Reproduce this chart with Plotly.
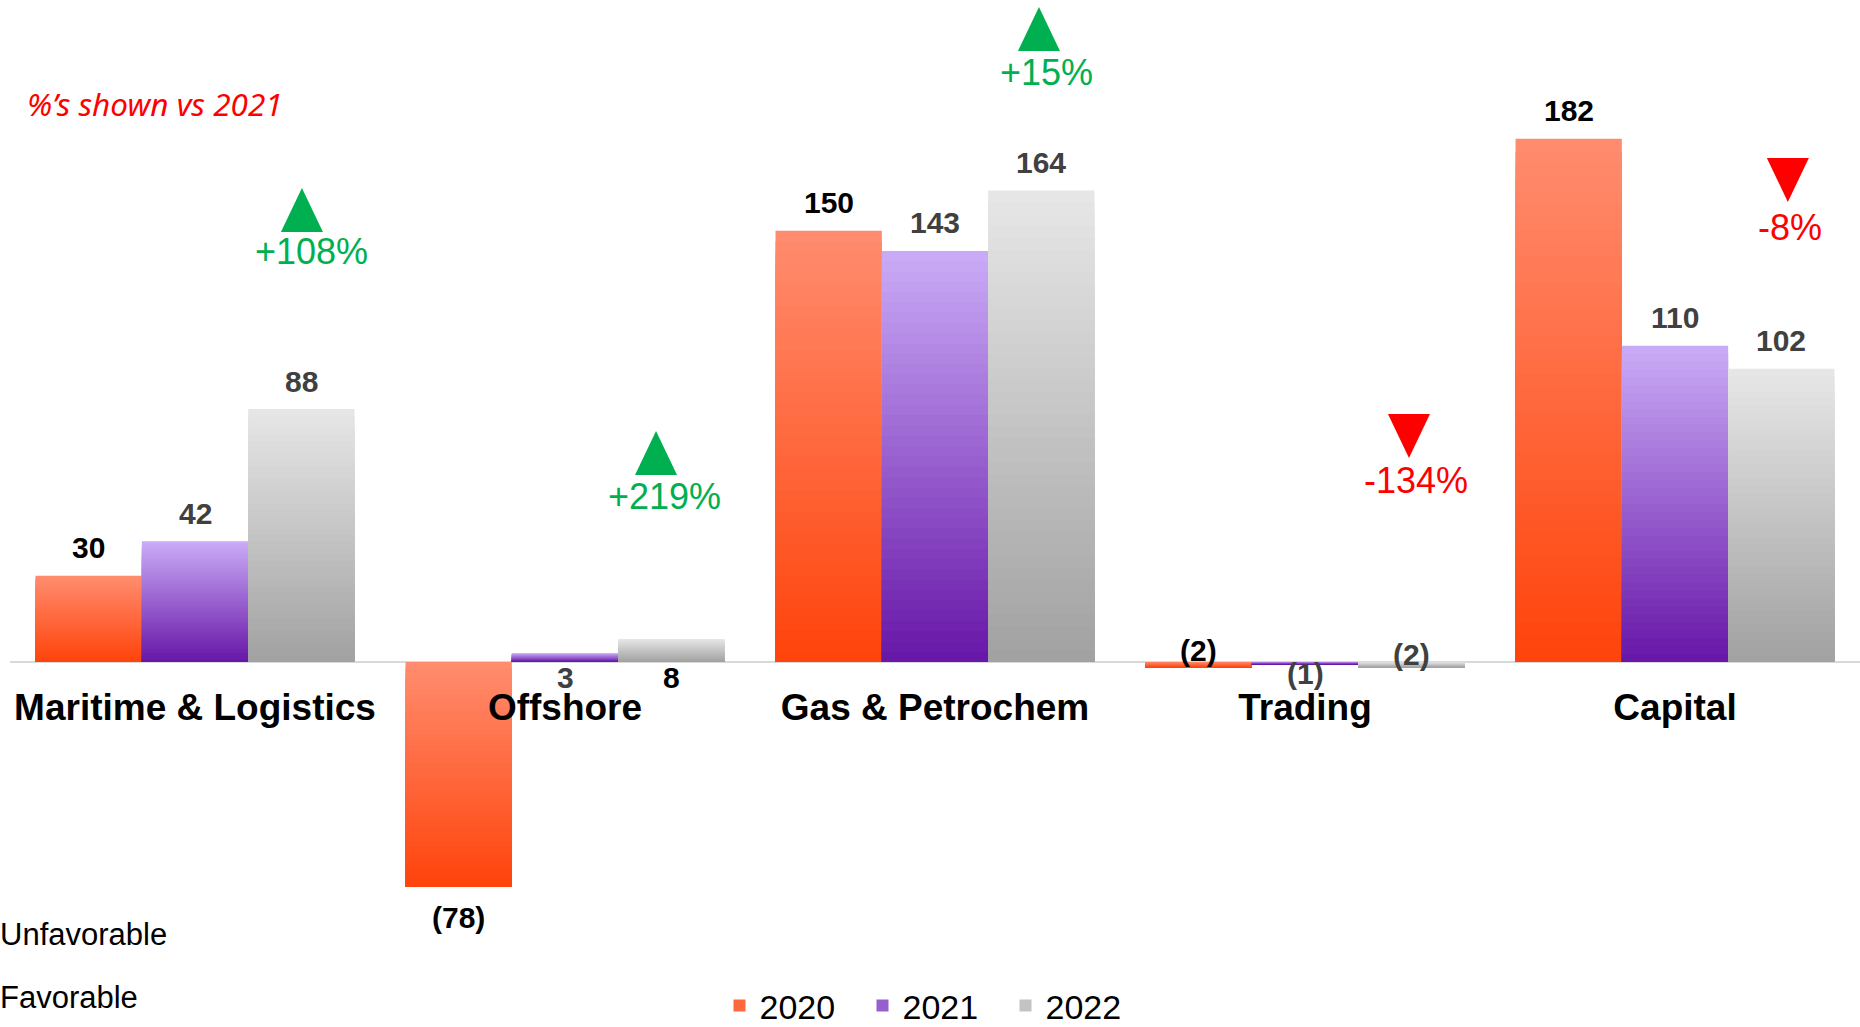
import plotly.graph_objects as go

# ---------------- data ----------------
categories = ["Maritime & Logistics", "Offshore", "Gas & Petrochem", "Trading", "Capital"]
years = ["2020", "2021", "2022"]
values_2020 = [30, -78, 150, -2, 182]
values_2021 = [42, 3, 143, -1, 110]
values_2022 = [88, 8, 164, -2, 102]
pct_labels = ["+108%", "+219%", "+15%", "-134%", "-8%"]
pct_up = [True, True, True, False, False]
note_text = "%\u2019s shown vs 2021"
side_labels = ["Unfavorable", "Favorable"]

series = [values_2020, values_2021, values_2022]

# ---------------- style ----------------
grad_top = [(255, 140, 110), (201, 170, 246), (230, 230, 230)]
grad_bot = [(255, 68, 12), (104, 24, 168), (162, 162, 162)]
label_colors = [
    ["#000000"] * 5,
    ["#404040"] * 5,
    ["#404040", "#000000", "#404040", "#404040", "#404040"],
]
GREEN = "#00B050"
RED = "#FF0000"
FONT = "Liberation Sans"
N_SLICES = 40
BARGAP = 0.138
YMIN, YMAX = -100.2, 230.3

def fmt(v):
    return f"({abs(v)})" if v < 0 else str(v)

def mix(a, b, t):
    return "rgb({},{},{})".format(*[round(a[i] + (b[i] - a[i]) * t) for i in range(3)])

fig = go.Figure()

# gradient bars: layered slices, each covering from depth k/N to the bar's far end
for s, vals in enumerate(series):
    for k in range(N_SLICES):
        f = k / N_SLICES
        t = k / (N_SLICES - 1)
        bases = [0 if v > 0 else v * f for v in vals]
        heights = [v * (1 - f) for v in vals]
        fig.add_trace(go.Bar(
            x=categories, y=heights, base=bases,
            offsetgroup=years[s], legendgroup=years[s], name=years[s],
            marker=dict(color=mix(grad_top[s], grad_bot[s], t), line=dict(width=0)),
            showlegend=(k == N_SLICES // 2),
            hoverinfo="skip",
        ))

annotations = []
bar_w = (1 - BARGAP) / 3

# special label placements: (series, category) -> (anchor at zero?, yshift)
special = {
    (1, 1): (True, -16), (2, 1): (True, -16),
    (0, 3): (True, 11), (1, 3): (True, -12), (2, 3): (True, 7),
}
for s, vals in enumerate(series):
    for i, v in enumerate(vals):
        if (s, i) in special:
            zero, sh = special[(s, i)]
            yv = 0 if zero else v
        else:
            yv = v
            sh = 28 if v > 0 else -31
        annotations.append(dict(
            x=i + (s - 1) * bar_w, y=yv, xref="x", yref="y", yshift=sh,
            text=fmt(v), showarrow=False, xanchor="center", yanchor="middle",
            font=dict(family=FONT, size=30, color=label_colors[s][i], weight="bold"),
        ))

# percentage change markers
tri_x = [0.289, 1.246, 2.281, 3.281, 4.305]
tri_y = [157.2, 72.7, 220.2, 78.6, 167.7]
txt_x = [0.314, 1.268, 2.300, 3.300, 4.311]
txt_y = [142.9, 57.7, 205.2, 63.3, 151.3]
shapes = []
for i, lab in enumerate(pct_labels):
    col = GREEN if pct_up[i] else RED
    path = "M -21,-22 L 21,-22 L 0,22 Z" if pct_up[i] else "M -21,22 L 21,22 L 0,-22 Z"
    shapes.append(dict(
        type="path", xref="x", yref="y", xsizemode="pixel", ysizemode="pixel",
        xanchor=tri_x[i], yanchor=tri_y[i], path=path,
        fillcolor=col, line=dict(width=0),
    ))
    annotations.append(dict(
        x=txt_x[i], y=txt_y[i], xref="x", yref="y", text=lab, showarrow=False,
        xanchor="center", yanchor="middle",
        font=dict(family=FONT, size=36, color=col),
    ))

annotations.append(dict(
    x=25 / 1850 - 10 / 1850, y=(950 - 104) / 950, xref="paper", yref="paper",
    text=note_text, showarrow=False, xanchor="left", yanchor="middle",
    font=dict(family="Noto Sans", size=31.5, color=RED, style="italic"),
))
for j, lab in enumerate(side_labels):
    annotations.append(dict(
        x=-12 / 1850, y=(950 - [934, 997][j]) / 950, xref="paper", yref="paper",
        text=lab, showarrow=False, xanchor="left", yanchor="middle",
        font=dict(family=FONT, size=31, color="#000000"),
    ))

fig.update_layout(
    width=1860, height=1027, autosize=False,
    margin=dict(l=10, r=0, t=0, b=77, pad=0, autoexpand=False),
    paper_bgcolor="white", plot_bgcolor="white",
    barmode="group", bargap=BARGAP, bargroupgap=0,
    showlegend=True,
    legend=dict(
        orientation="h", x=(934 - 10) / 1850, xanchor="center",
        y=(950 - 1006) / 950, yanchor="middle",
        font=dict(family=FONT, size=34, color="#000000"),
        entrywidth=98, entrywidthmode="pixels", traceorder="normal",
        bgcolor="rgba(0,0,0,0)",
    ),
    xaxis=dict(
        type="category", categoryorder="array", categoryarray=categories,
        anchor="free", position=-YMIN / (YMAX - YMIN),
        showline=False, ticks="", showgrid=False, zeroline=False,
        tickfont=dict(family=FONT, size=37, color="#000000", weight="bold"),
        ticklabelstandoff=20, automargin=False,
    ),
    yaxis=dict(
        range=[YMIN, YMAX], showgrid=False, showticklabels=False, ticks="",
        zeroline=True, zerolinecolor="#D9D9D9", zerolinewidth=2, showline=False,
        automargin=False,
    ),
    annotations=annotations,
    shapes=shapes,
    hovermode=False,
)

fig.write_html("out.html")
